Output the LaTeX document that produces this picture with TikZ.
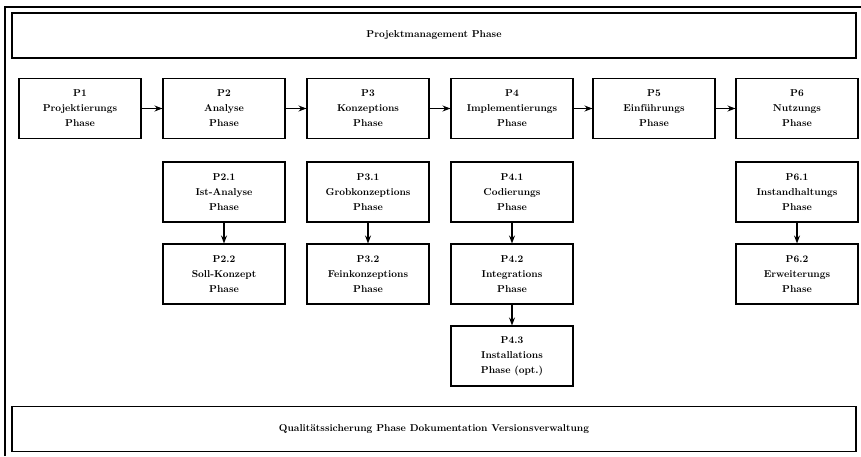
\documentclass[tikz,border=0pt]{standalone}
\usepackage{tikz}
\usetikzlibrary{arrows.meta}

\begin{document}
\begin{tikzpicture}[x=1pt, y=-1pt, >=Stealth,
    phase/.style={draw, line width=1.1pt, minimum width=122pt, minimum height=60pt,
        inner sep=2pt, align=center, font=\bfseries\fontsize{10}{15}\selectfont},
    band/.style={phase, minimum width=844pt, minimum height=45pt},
    link/.style={->, line width=1.1pt}]
    \useasboundingbox (0,0) rectangle (861,456);
    % Rahmen
    \draw[line width=1.1pt] (5,456) -- (5,7) -- (861,7);
    % Projektmanagement oben
    \node[band] (pm) at (434,35.5) {Projektmanagement Phase};
    % Hauptphasen
    \node[phase] (p1) at (80,108.5)  {P1\\Projektierungs\\Phase};
    \node[phase] (p2) at (224,108.5) {P2\\Analyse\\Phase};
    \node[phase] (p3) at (368,108.5) {P3\\Konzeptions\\Phase};
    \node[phase] (p4) at (512,108.5) {P4\\Implementierungs\\Phase};
    \node[phase] (p5) at (654,108.5) {P5\\Einführungs\\Phase};
    \node[phase] (p6) at (797,108.5) {P6\\Nutzungs\\Phase};
    \foreach \a/\b in {p1/p2, p2/p3, p3/p4, p4/p5, p5/p6}
        \draw[link] (\a) -- (\b);
    % Teilphasen
    \node[phase] (p21) at (224,192) {P2.1\\Ist-Analyse\\Phase};
    \node[phase] (p22) at (224,274) {P2.2\\Soll-Konzept\\Phase};
    \node[phase] (p31) at (368,192) {P3.1\\Grobkonzeptions\\Phase};
    \node[phase] (p32) at (368,274) {P3.2\\Feinkonzeptions\\Phase};
    \node[phase] (p41) at (512,192) {P4.1\\Codierungs\\Phase};
    \node[phase] (p42) at (512,274) {P4.2\\Integrations\\Phase};
    \node[phase] (p43) at (512,356) {P4.3\\Installations\\Phase (opt.)};
    \node[phase] (p61) at (797,192) {P6.1\\Instandhaltungs\\Phase};
    \node[phase] (p62) at (797,274) {P6.2\\Erweiterungs\\Phase};
    \foreach \a/\b in {p21/p22, p31/p32, p41/p42, p42/p43, p61/p62}
        \draw[link] (\a) -- (\b);
    % Qualitaetssicherung unten
    \node[band] (qs) at (434,429) {Qualitätssicherung Phase Dokumentation Versionsverwaltung};
\end{tikzpicture}
\end{document}
